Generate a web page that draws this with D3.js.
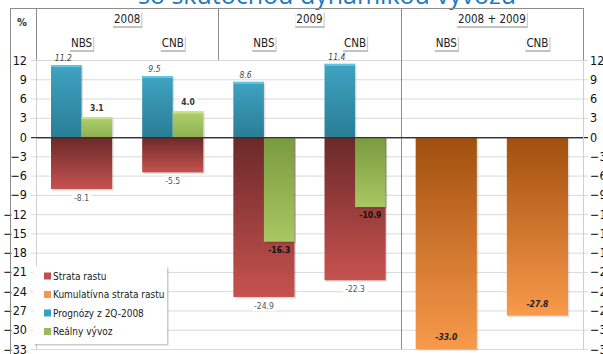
<!DOCTYPE html>
<html>
<head>
<meta charset="utf-8">
<script src="https://cdn.jsdelivr.net/npm/d3@7"></script>
<style>
  body { margin: 0; background: #fff; }
  svg { display: block; font-family: "Liberation Sans Narrow", "DejaVu Sans Condensed", sans-serif; }
</style>
</head>
<body>
<div id="chart"></div>
<script>
// data
const categories = ["2008", "2009", "2008 + 2009"];
const sources = ["NBS", "CNB"];
const groups = ["2008", "2008", "2009", "2009", "2008 + 2009", "2008 + 2009"];
const subs = ["NBS", "CNB", "NBS", "CNB", "NBS", "CNB"];
const strataRastu = [-8.1, -5.5, -24.9, -22.3, null, null];
const kumulativna = [null, null, null, null, -33.0, -27.8];
const prognozy = [11.2, 9.5, 8.6, 11.4, null, null];
const realny = [3.1, 4.0, -16.3, -10.9, null, null];
const yTicks = d3.range(-33, 13, 3);
const legendNames = ["Strata rastu", "Kumulatívna strata rastu", "Prognózy z 2Q-2008", "Reálny vývoz"];
const title = "so skutočnou dynamikou vývozu";

const W = 603, H = 354;
const margin = {left: 36, right: 20, top: 60, bottom: 5};

const svg = d3.select("#chart").append("svg")
    .attr("width", W)
    .attr("height", H);

const defs = svg.append("defs");
function grad(id, zeroCol, endCol, up) {
  const g = defs.append("linearGradient").attr("id", id)
      .attr("x1", 0).attr("x2", 0)
      .attr("y1", up ? 1 : 0).attr("y2", up ? 0 : 1);
  g.append("stop").attr("offset", "0%").attr("stop-color", zeroCol);
  g.append("stop").attr("offset", "100%").attr("stop-color", endCol);
}
grad("redG", "#6a2929", "#c6524f", false);
grad("orgG", "#a14f0e", "#f99a4b", false);
grad("grnDn", "#7a9a3f", "#a7c862", false);
grad("grnUp", "#8fb151", "#b0d06c", true);
grad("bluUp", "#2a7d96", "#3fa3c1", true);

const x0 = d3.scaleBand().domain(categories).range([margin.left, W - margin.right]);
const x1 = d3.scaleBand().domain(sources).range([0, x0.bandwidth()]);
const x2 = d3.scaleBand().domain(["prog", "real"]).range([15, x1.bandwidth() - 15]);
const y = d3.scaleLinear().domain([-33, 12]).range([H - margin.bottom, margin.top]);

const xl = x0.range()[0], xr = x0.range()[1];

// title, cut off by the top edge
svg.append("text")
    .attr("x", 327).attr("y", 4)
    .attr("text-anchor", "middle")
    .attr("fill", "#1b79c0")
    .style("font-family", "'Open Sans', sans-serif")
    .style("font-size", "25px")
    .text(title);

// gridlines
svg.append("g").selectAll("line").data(yTicks).join("line")
    .attr("x1", xl - 5).attr("x2", xr + 5)
    .attr("y1", d => y(d) + 0.5).attr("y2", d => y(d) + 0.5)
    .attr("stroke", d => d === 0 ? "#333" : "#d9d9d9")
    .attr("stroke-width", d => d === 0 ? 1.2 : 1);

// axes
const axL = svg.append("g").attr("transform", `translate(${xl},0)`)
    .call(d3.axisLeft(y).tickValues(yTicks).tickSize(0).tickPadding(9));
const axR = svg.append("g").attr("transform", `translate(${xr},0)`)
    .call(d3.axisRight(y).tickValues(yTicks).tickSize(0).tickPadding(7));
[axL, axR].forEach(a => {
  a.select(".domain").attr("stroke", "#d0d0d0");
  a.selectAll("text").attr("fill", "#111").style("font-size", "12.5px")
      .style("font-family", "'Liberation Sans Narrow', 'DejaVu Sans Condensed', sans-serif");
});

// frame + separators
const fr = svg.append("g").attr("stroke", "#8c8c8c").attr("fill", "none");
fr.append("line").attr("x1", 10.5).attr("x2", 10.5).attr("y1", 8).attr("y2", H);
fr.append("line").attr("x1", 10).attr("x2", xr + 1).attr("y1", 8.5).attr("y2", 8.5);
categories.forEach((c, i) => {
  const xx = Math.round(x0(c)) + 0.5;
  fr.append("line").attr("x1", xx).attr("x2", xx).attr("y1", 8).attr("y2", i === 2 ? y(-33) : y(12));
});
fr.append("line").attr("x1", xr + 0.5).attr("x2", xr + 0.5).attr("y1", 8).attr("y2", y(12));

// boxed header labels
function boxLabel(px, py, txt, size) {
  const g = svg.append("g");
  const t = g.append("text").attr("x", px).attr("y", py)
      .attr("text-anchor", "middle").attr("dy", "0.35em")
      .style("font-size", size + "px").attr("fill", "#222").text(txt);
  const b = t.node().getBBox();
  g.insert("rect", "text").attr("x", b.x - 1).attr("y", b.y + 1).attr("width", b.width + 3).attr("height", b.height + 1)
      .attr("fill", "#9a9a9a").attr("opacity", 0.6);
  g.insert("rect", "text").attr("x", b.x - 1).attr("y", b.y).attr("width", b.width + 2).attr("height", b.height)
      .attr("fill", "#fff");
}
categories.forEach(c => boxLabel(x0(c) + x0.bandwidth() / 2, 19, c, 11.5));
groups.forEach((g, i) => boxLabel(x0(g) + x1(subs[i]) + x1.bandwidth() / 2, 43, subs[i], 11.5));
svg.append("text").attr("x", 22).attr("y", 26).attr("text-anchor", "middle")
    .style("font-size", "11px").style("font-weight", "bold").attr("fill", "#333").text("%");

// bars
const bars = svg.append("g");
const idx = d3.range(groups.length);
function bx(i) { return x0(groups[i]) + x1(subs[i]); }

function drawBar(i, v, xa, w, fill) {
  const top = y(Math.max(0, v)), bot = y(Math.min(0, v));
  bars.append("rect").attr("x", xa + 1.5).attr("y", top + 1.5).attr("width", w).attr("height", bot - top)
      .attr("fill", "#000").attr("opacity", 0.12);
  bars.append("rect").attr("x", xa).attr("y", top).attr("width", w).attr("height", bot - top)
      .attr("fill", fill);
}
idx.forEach(i => {
  if (strataRastu[i] != null) drawBar(i, strataRastu[i], bx(i) + 15, x1.bandwidth() - 30, "url(#redG)");
  if (kumulativna[i] != null) drawBar(i, kumulativna[i], bx(i) + 15, x1.bandwidth() - 30, "url(#orgG)");
  if (prognozy[i] != null) {
    drawBar(i, prognozy[i], bx(i) + x2("prog"), x2.bandwidth(), "url(#bluUp)");
    bars.append("rect").attr("x", bx(i) + x2("prog")).attr("y", y(prognozy[i])).attr("width", x2.bandwidth()).attr("height", 2)
        .attr("fill", "#62c6e0");
  }
  if (realny[i] != null) {
    drawBar(i, realny[i], bx(i) + x2("real"), x2.bandwidth(), realny[i] > 0 ? "url(#grnUp)" : "url(#grnDn)");
    if (realny[i] > 0) bars.append("rect").attr("x", bx(i) + x2("real")).attr("y", y(realny[i])).attr("width", x2.bandwidth()).attr("height", 2)
        .attr("fill", "#c6e38a");
  }
});
// zero line on top
svg.append("line").attr("x1", xl).attr("x2", xr).attr("y1", y(0) + 0.5).attr("y2", y(0) + 0.5)
    .attr("stroke", "#333").attr("stroke-width", 1.2);

// value labels
const lab = svg.append("g").style("font-size", "8.5px").attr("text-anchor", "middle");
function whiteLabel(px, py, txt, style) {
  const t = lab.append("text").attr("x", px).attr("y", py).attr("fill", style.fill || "#333")
      .style("font-style", style.italic ? "italic" : "normal")
      .style("font-weight", style.bold ? "bold" : "normal").text(txt);
  if (style.box) {
    const b = t.node().getBBox();
    lab.insert("rect", () => t.node()).attr("x", b.x - 2).attr("y", b.y).attr("width", b.width + 4).attr("height", b.height)
        .attr("fill", "#fff");
  }
}
idx.forEach(i => {
  const c = bx(i) + x1.bandwidth() / 2;
  if (prognozy[i] != null)
    whiteLabel(bx(i) + x2("prog") + x2.bandwidth() / 2 - 3, y(prognozy[i]) - 4, prognozy[i].toFixed(1), {italic: true, fill: "#444"});
  if (realny[i] != null) {
    const xc = bx(i) + x2("real") + x2.bandwidth() / 2;
    if (realny[i] > 0) whiteLabel(xc, y(realny[i]) - 6, realny[i].toFixed(1), {box: true, bold: true, fill: "#333"});
    else whiteLabel(xc, y(realny[i]) + 11, realny[i].toFixed(1), {bold: true, fill: "#111"});
  }
  if (strataRastu[i] != null)
    whiteLabel(c, y(strataRastu[i]) + 12, strataRastu[i].toFixed(1), {box: true, fill: "#555"});
  if (kumulativna[i] != null)
    whiteLabel(c, y(kumulativna[i]) - 9, kumulativna[i].toFixed(1), {italic: true, bold: true, fill: "#222"});
});

// legend
const lg = svg.append("g").attr("transform", "translate(33,266)");
lg.append("rect").attr("x", 1.5).attr("y", 1.5).attr("width", 134).attr("height", 78).attr("fill", "#999").attr("opacity", 0.5);
lg.append("rect").attr("width", 134).attr("height", 78).attr("fill", "#fff");
const legCols = ["#c0504d", "#f79646", "#31a3c6", "#9bbb59"];
legendNames.forEach((n, i) => {
  const row = lg.append("g").attr("transform", `translate(11,${10 + i * 18.5})`);
  row.append("rect").attr("x", 0).attr("y", -3.5).attr("width", 7).attr("height", 7).attr("fill", legCols[i]);
  row.append("text").attr("x", 9).attr("dy", "0.35em").style("font-size", "10px").attr("fill", "#222").text(n);
});
</script>
</body>
</html>
